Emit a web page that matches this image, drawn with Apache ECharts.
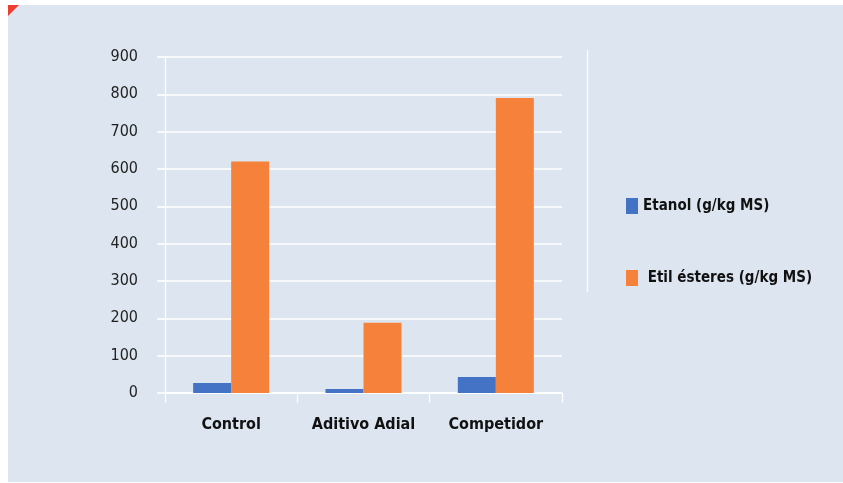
<!DOCTYPE html>
<html>
<head>
<meta charset="utf-8">
<script src="https://cdn.jsdelivr.net/npm/echarts@6/dist/echarts.min.js"></script>
<style>
  html, body { margin: 0; padding: 0; background: #ffffff; }
  #chart { width: 843px; height: 483px; }
</style>
</head>
<body>
<div id="chart"></div>
<script>
// Categories, series and axis ticks
const categories = ['Control', 'Aditivo Adial', 'Competidor'];
const seriesNames = ['Etanol (g/kg MS)', ' Etil ésteres (g/kg MS)'];
const etanol = [27, 11, 43];
const etilEsteres = [620, 188, 790];
const yTicks = [0, 100, 200, 300, 400, 500, 600, 700, 800, 900];

const FONT = '"Liberation Sans Narrow", "DejaVu Sans Condensed", "Roboto", sans-serif';
const BG = '#dde6f0';
const BLUE = '#4472c4';
const ORANGE = '#f5813b';

const chart = echarts.init(document.getElementById('chart'), null, { renderer: 'canvas' });

chart.setOption({
  backgroundColor: '#ffffff',
  animation: false,
  textStyle: { fontFamily: FONT },
  graphic: [
    { type: 'rect', z: -10, silent: true,
      shape: { x: 8, y: 5, width: 835, height: 477 },
      style: { fill: BG } },
    { type: 'polygon', z: -5, silent: true,
      shape: { points: [[8, 5], [19, 5], [8, 16]] },
      style: { fill: '#ee3d2f' } },
    { type: 'line', z: -5, silent: true,
      shape: { x1: 587.5, y1: 50, x2: 587.5, y2: 292 },
      style: { stroke: '#ffffff', lineWidth: 1.2 } }
  ],
  grid: { left: 165, top: 57, width: 397, height: 336, containLabel: false },
  legend: {
    orient: 'vertical',
    left: 626,
    top: 198,
    padding: 0,
    itemWidth: 12,
    itemHeight: 16,
    itemGap: 56,
    icon: 'rect',
    data: seriesNames,
    textStyle: { fontFamily: FONT, fontSize: 15, fontWeight: 'bold', color: '#111' },
    itemStyle: { borderWidth: 0 }
  },
  xAxis: {
    type: 'category',
    data: categories,
    axisLine: { show: true, lineStyle: { color: '#ffffff', width: 1.5 } },
    axisTick: { show: true, length: 10, interval: 0, alignWithLabel: false, lineStyle: { color: '#ffffff', width: 1.2 } },
    axisLabel: { interval: 0, margin: 24, fontFamily: FONT, fontSize: 16, fontWeight: 'bold', color: '#111' }
  },
  yAxis: {
    type: 'value',
    min: yTicks[0],
    max: yTicks[yTicks.length - 1],
    interval: 100,
    axisLine: { show: true, onZero: false, lineStyle: { color: '#ffffff', width: 1.2 } },
    axisTick: { show: true, length: 8, lineStyle: { color: '#ffffff', width: 1.5 } },
    axisLabel: { margin: 27, fontFamily: FONT, fontSize: 16, color: '#222' },
    splitLine: { show: true, lineStyle: { color: '#ffffff', width: 1.5 } }
  },
  series: [
    { name: seriesNames[0], type: 'bar', data: etanol, barWidth: 38, barGap: '0%',
      itemStyle: { color: BLUE } },
    { name: seriesNames[1], type: 'bar', data: etilEsteres, barWidth: 38, barGap: '0%',
      itemStyle: { color: ORANGE } }
  ]
});
</script>
</body>
</html>
